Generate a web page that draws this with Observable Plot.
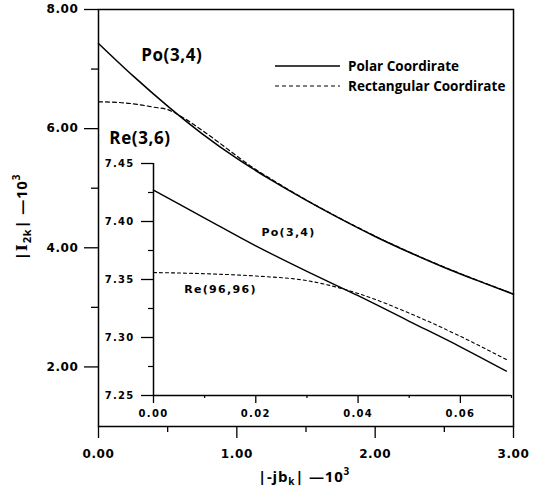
<!DOCTYPE html>
<html><head><meta charset="utf-8">
<script src="https://cdn.jsdelivr.net/npm/d3@7"></script>
<script src="https://cdn.jsdelivr.net/npm/@observablehq/plot@0.6"></script>
<style>
body{margin:0;background:#fff;}
#wrap{position:relative;width:536px;height:491px;}
#wrap svg{position:absolute;left:0;top:0;background:transparent;}
#wrap svg text{font-weight:bold;}
</style></head><body><div id="wrap"></div>
<script>
// ---- main chart data ----
const mainX = [0,0.25,0.5,0.75,1.0,1.25,1.5,1.75,2.0,2.25,2.5,2.75,3.0];
const polarMain = [7.43,6.885,6.378,5.913,5.50,5.135,4.80,4.485,4.19,3.92,3.67,3.44,3.22];
const rectMainX = [0,0.1,0.2,0.3,0.4,0.5,0.6,0.75,1.0,1.1,1.25,1.5,1.75,2.0,2.25,2.5,2.75,3.0];
const rectMain = [6.45,6.445,6.43,6.40,6.36,6.32,6.20,5.97,5.54,5.37,5.15,4.805,4.49,4.195,3.925,3.675,3.445,3.225];
const mainXTicks = [0,1,2,3];
const mainXMinor = [0.5,1.5,2.5];
const mainYTicks = [2,4,6,8];
const mainYMinor = [3,5,7];
// ---- inset data ----
const insetX = [0,0.01,0.02,0.03,0.04,0.05,0.06,0.069];
const polarInset = [7.427,7.403,7.379,7.357,7.336,7.314,7.292,7.271];
const rectInsetX = [0,0.01,0.02,0.03,0.04,0.05,0.06,0.069];
const rectInset = [7.356,7.355,7.353,7.349,7.338,7.321,7.301,7.281];
const insetXTicks = [0,0.02,0.04,0.06];
const insetXMinor = [0.01,0.03,0.05,0.07];
const insetYTicks = [7.25,7.30,7.35,7.40,7.45];
const insetYMinor = [7.275,7.325,7.375,7.425];
// labels
const mainLabels = [{x:0.53,y:7.23,t:"Po(3,4)"},{x:0.30,y:5.83,t:"Re(3,6)"}];
const insetLabels = [{x:0.0264,y:7.3905,t:"Po(3,4)"},{x:0.0131,y:7.3414,t:"Re(96,96)"}];
const legendItems = ["Polar Coordirate","Rectangular Coordirate"];

const f2 = d3.format(".2f");
const polarData = mainX.map((x,i)=>({x,y:polarMain[i]}));
const rectData = rectMainX.map((x,i)=>({x,y:rectMain[i]}));
const polarInData = insetX.map((x,i)=>({x,y:polarInset[i]}));
const rectInData = rectInsetX.map((x,i)=>({x,y:rectInset[i]}));

const tickFont = {fontFamily:"DejaVu Sans", fontWeight:"bold", fontSize:12};
const main = Plot.plot({
  width:536, height:491,
  marginLeft:98, marginRight:23, marginTop:9, marginBottom:65,
  x:{domain:[0,3]}, y:{domain:[1,8]},
  style:{fontFamily:"DejaVu Sans", letterSpacing:"0.6px", background:"transparent"},
  marks:[
    Plot.frame({stroke:"black", strokeWidth:1.5}),
    Plot.axisY({ticks:mainYTicks, tickSize:14, tickPadding:6, tickFormat:f2, label:null, strokeWidth:1.3, ...tickFont}),
    Plot.axisY({ticks:mainYMinor, tickSize:7, tickFormat:()=>"", label:null, strokeWidth:1.3}),
    Plot.axisX({ticks:mainXTicks, tickSize:12, tickPadding:11, tickFormat:f2, label:null, strokeWidth:1.3, ...tickFont}),
    Plot.axisX({ticks:mainXMinor, tickSize:6, tickFormat:()=>"", label:null, strokeWidth:1.3}),
    Plot.line(polarData, {x:"x", y:"y", curve:"monotone-x", stroke:"black", strokeWidth:1.5}),
    Plot.line(rectData, {x:"x", y:"y", curve:"monotone-x", stroke:"black", strokeWidth:1.2, strokeDasharray:"4,3"}),
    Plot.text(mainLabels, {x:"x", y:"y", text:"t", fontFamily:"Open Sans", fontWeight:"bold", fontSize:17})
  ]
});
const svg = d3.select(main);
// legend
const lg = svg.append("g").attr("text-anchor","start");
[66,86].forEach((yy,i)=>{
  lg.append("line").attr("x1",275).attr("x2",340).attr("y1",yy).attr("y2",yy)
    .attr("stroke","black").attr("stroke-width",i?1.2:1.5).attr("stroke-dasharray",i?"4,3":null);
  lg.append("text").attr("x",348).attr("y",yy).attr("dy","0.35em").attr("text-anchor","start")
    .attr("font-family","Open Sans").attr("font-size",13.5)
    .style("letter-spacing","0px").text(legendItems[i]);
});
// axis titles
const yl = svg.append("text").attr("transform","translate(27,217) rotate(-90)")
  .attr("text-anchor","middle").attr("font-family","Open Sans")
  .attr("font-size",15).style("letter-spacing","0.8px");
yl.append("tspan").text("|");
yl.append("tspan").attr("font-family","DejaVu Serif").text("I");
yl.append("tspan").attr("font-size",11).attr("dy",4).text("2k");
yl.append("tspan").attr("dy",-4).text("| \u201410");
yl.append("tspan").attr("font-size",10).attr("dy",-7).text("3");
const xl = svg.append("text").attr("x",304).attr("y",482)
  .attr("text-anchor","middle").attr("font-family","Open Sans")
  .attr("font-size",15).style("letter-spacing","0.8px");
xl.append("tspan").text("|-jb");
xl.append("tspan").attr("font-size",10).attr("dy",3).text("k");
xl.append("tspan").attr("dy",-3).text("| \u201410");
xl.append("tspan").attr("font-size",10).attr("dy",-7).text("3");
document.getElementById("wrap").appendChild(main);

const inFont = {fontFamily:"DejaVu Sans", fontWeight:"bold", fontSize:10};
const inset = Plot.plot({
  width:536, height:491,
  marginLeft:153, marginRight:25, marginTop:163, marginBottom:96,
  x:{domain:[0,0.07]}, y:{domain:[7.25,7.45]},
  style:{fontFamily:"DejaVu Sans", letterSpacing:"1.3px", background:"transparent"},
  marks:[
    Plot.ruleX([0], {stroke:"black", strokeWidth:1.5}),
    Plot.ruleY([7.25], {stroke:"black", strokeWidth:1.5}),
    Plot.axisY({ticks:insetYTicks, tickSize:12, tickPadding:7, tickFormat:f2, label:null, strokeWidth:1.3, ...inFont}),
    Plot.axisY({ticks:insetYMinor, tickSize:5, tickFormat:()=>"", label:null, strokeWidth:1.2}),
    Plot.axisX({ticks:insetXTicks, tickSize:8, tickPadding:6, tickFormat:f2, label:null, strokeWidth:1.3, ...inFont}),
    Plot.axisX({ticks:insetXMinor, tickSize:3, tickFormat:()=>"", label:null, strokeWidth:1.2}),
    Plot.line(polarInData, {x:"x", y:"y", curve:"monotone-x", stroke:"black", strokeWidth:1.4}),
    Plot.line(rectInData, {x:"x", y:"y", curve:"monotone-x", stroke:"black", strokeWidth:1.1, strokeDasharray:"3,3"}),
    Plot.text(insetLabels, {x:"x", y:"y", text:"t", fontFamily:"DejaVu Sans", fontWeight:"bold", fontSize:11})
  ]
});
inset.style.pointerEvents = "none";
document.getElementById("wrap").appendChild(inset);
</script></body></html>
